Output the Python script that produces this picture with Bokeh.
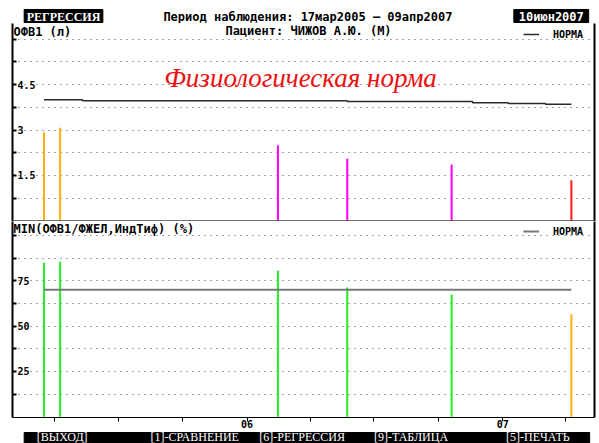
import pandas as pd
from bokeh.plotting import figure
from bokeh.layouts import column
from bokeh.models import (Range1d, LinearAxis, DatetimeAxis, FixedTicker, Span,
                          Legend, LegendItem, Grid)
from bokeh.core.properties import value
from bokeh.embed import file_html
from bokeh.resources import INLINE

MONO = "DejaVu Sans Mono"
SERIF = "Liberation Serif"

# ---- texts -------------------------------------------------------------
report_title = "РЕГРЕССИЯ"
report_date = "10июн2007"
period_text = "Период наблюдения: 17мар2005 – 09апр2007"
patient_text = "Пациент: ЧИЖОВ А.Ю. (М)"
norm_caption = "Физиологическая норма"
fev1_title = "ОФВ1 (л)"
ratio_title = "MIN(ОФВ1/ФЖЕЛ,ИндТиф) (%)"
legend_label = "НОРМА"
menu_items = ["[ВЫХОД]", "[1]-СРАВНЕНИЕ", "[6]-РЕГРЕССИЯ", "[9]-ТАБЛИЦА", "[5]-ПЕЧАТЬ"]

# ---- data --------------------------------------------------------------
visit_dates = ["2005-03-17", "2005-04-09", "2006-02-14", "2006-05-24", "2006-10-20", "2007-04-09"]
fev1_values = [2.93, 3.08, 2.50, 2.05, 1.86, 1.34]
fev1_colors = ["#ffad0f", "#ffad0f", "#ff00ff", "#ff00ff", "#ff00ff", "#ff1a1a"]
ratio_values = [85.0, 85.5, 80.5, 71.3, 67.3, 56.6]
ratio_colors = ["#22ee22", "#22ee22", "#22ee22", "#22ee22", "#22ee22", "#ffad0f"]

fev1_norm_dates = ["2005-03-17", "2005-05-11", "2006-05-24", "2006-11-19", "2007-01-09", "2007-03-03", "2007-04-09"]
fev1_norm_values = [4.00, 3.97, 3.94, 3.90, 3.88, 3.85]
ratio_norm_dates = ["2005-03-17", "2007-04-09"]
ratio_norm_value = 70.0

fev1_ticks = [0.75, 1.5, 2.25, 3.0, 3.75, 4.5, 5.25, 6.0]
fev1_tick_labels = {1.5: "1.5", 3.0: "3", 4.5: "4.5"}
ratio_ticks = [12.5, 25.0, 37.5, 50.0, 62.5, 75.0, 87.5, 100.0]
ratio_tick_labels = {25.0: "25", 50.0: "50", 75.0: "75"}

quarter_ticks = ["2005-04-01", "2005-07-01", "2005-10-01", "2006-04-01",
                 "2006-07-01", "2006-10-01", "2007-04-01"]
year_ticks = ["2006-01-01", "2007-01-01"]
year_labels = ["06", "07"]

date_start = "2005-01-31"
date_end = "2007-05-12"


def ms(d):
    return pd.Timestamp(d).value / 1e6


X0, X1 = ms(date_start), ms(date_end)
visit_ms = [ms(d) for d in visit_dates]

FEV1_RANGE = (-0.02, 6.52)
RATIO_RANGE = (-0.39, 107.7)


def panel(height, y_range, ticks, bottom_border):
    p = figure(width=599, height=height, x_range=Range1d(X0, X1), y_range=Range1d(*y_range),
               x_axis_type="datetime", x_axis_location=None, y_axis_location=None,
               output_backend="svg", toolbar_location=None,
               min_border_left=12, min_border_right=5, min_border_top=0,
               min_border_bottom=bottom_border,
               background_fill_color="white", border_fill_color="white",
               outline_line_color=None)
    p.xgrid.visible = False
    p.ygrid.visible = False
    p.add_layout(Grid(dimension=1, ticker=FixedTicker(ticks=ticks),
                      grid_line_color="#444444", grid_line_dash="1 5",
                      grid_line_width=1), "center")
    # inward tick marks only; the values are written inside the frame
    left = LinearAxis(ticker=FixedTicker(ticks=[], minor_ticks=ticks),
                      major_tick_in=0, major_tick_out=0,
                      minor_tick_in=4, minor_tick_out=0, major_label_standoff=0,
                      axis_line_width=2, axis_line_color="black",
                      minor_tick_line_width=2, minor_tick_line_color="black")
    right = LinearAxis(ticker=FixedTicker(ticks=[], minor_ticks=[]), major_tick_in=0,
                       major_tick_out=0, minor_tick_in=0, minor_tick_out=0,
                       major_label_standoff=0, axis_line_width=2, axis_line_color="black")
    p.add_layout(left, "left")
    p.add_layout(right, "right")
    return p


def tick_texts(p, labels):
    ys = list(labels.keys())
    p.text(x=[X0] * len(ys), y=ys, text=[labels[y] for y in ys], x_offset=5,
           text_font=value(MONO), text_font_style="bold", text_font_size="10px",
           text_align="left", text_baseline="middle", text_color="black")


def norm_legend(p, renderer, y_bottom):
    legend = Legend(items=[LegendItem(label=legend_label, renderers=[renderer])],
                    location=(511, y_bottom), glyph_width=16, glyph_height=12,
                    label_height=12, label_width=30, label_standoff=14, padding=0,
                    margin=0, spacing=0, border_line_color=None, background_fill_alpha=0,
                    label_text_font=MONO, label_text_font_style="bold",
                    label_text_font_size="10px", label_text_color="black")
    p.add_layout(legend)


# ---- header band -------------------------------------------------------
head = figure(width=599, height=23, x_range=Range1d(0, 599), y_range=Range1d(23, 0),
              x_axis_location=None, y_axis_location=None, output_backend="svg",
              toolbar_location=None, min_border=0, outline_line_color=None)
head.grid.visible = False
head.quad(left=[12, 516], right=[93, 593], top=[9, 9], bottom=[22, 22],
          fill_color="black", line_color="black")
head.text(x=[52.5], y=[16], text=[report_title], text_color="white",
          text_font=value(SERIF), text_font_style="bold", text_font_size="12px",
          text_align="center", text_baseline="middle")
head.text(x=[554.5], y=[16], text=[report_date], text_color="white",
          text_font=value(MONO), text_font_style="bold", text_font_size="12px",
          text_align="center", text_baseline="middle")
head.text(x=[304], y=[16], text=[period_text], text_color="black",
          text_font=value(MONO), text_font_style="bold", text_font_size="12px",
          text_align="center", text_baseline="middle")

# ---- FEV1 panel --------------------------------------------------------
top = panel(198, FEV1_RANGE, fev1_ticks, 0)
top.add_layout(Span(location=0, dimension="width", line_color="#444444", line_width=1.5))
top.segment(x0=visit_ms, y0=[0] * len(visit_ms), x1=visit_ms, y1=fev1_values,
            line_color=fev1_colors, line_width=2)
fev1_steps = top.step(x=[ms(d) for d in fev1_norm_dates],
                      y=fev1_norm_values + [fev1_norm_values[-1]], mode="after",
                      line_color="#2a2a2a", line_width=1.5)
tick_texts(top, fev1_tick_labels)
top.text(x=[X0], y=[FEV1_RANGE[1]], text=[fev1_title], x_offset=1, y_offset=8,
         text_font=value(MONO), text_font_style="bold", text_font_size="12px",
         text_align="left", text_baseline="middle", text_color="black")
top.text(x=[X0], y=[FEV1_RANGE[1]], text=[patient_text], x_offset=296, y_offset=7,
         text_font=value(MONO), text_font_style="bold", text_font_size="12px",
         text_align="center", text_baseline="middle", text_color="black")
top.text(x=[(X0 + X1) / 2], y=[4.72], text=[norm_caption], x_offset=-3,
         text_font=value(SERIF), text_font_style="italic", text_font_size="27px",
         text_align="center", text_baseline="middle", text_color="#ee1111")
norm_legend(top, fev1_steps, 181)

# ---- FEV1/FVC panel ----------------------------------------------------
bot = panel(210, RATIO_RANGE, ratio_ticks, 14)
bot.segment(x0=visit_ms, y0=[0] * len(visit_ms), x1=visit_ms, y1=ratio_values,
            line_color=ratio_colors, line_width=2)
ratio_line = bot.line(x=[ms(d) for d in ratio_norm_dates],
                      y=[ratio_norm_value] * len(ratio_norm_dates),
                      line_color="#777777", line_width=2)
tick_texts(bot, ratio_tick_labels)
bot.text(x=[X0], y=[RATIO_RANGE[1]], text=[ratio_title], x_offset=1, y_offset=7,
         text_font=value(MONO), text_font_style="bold", text_font_size="12px",
         text_align="left", text_baseline="middle", text_color="black")
norm_legend(bot, ratio_line, 180)

yt = [ms(d) for d in year_ticks]
qt = [ms(d) for d in quarter_ticks]
xaxis = DatetimeAxis(ticker=FixedTicker(ticks=yt, minor_ticks=qt),
                     major_label_overrides=dict(zip(yt, year_labels)),
                     major_tick_out=4, major_tick_in=0, minor_tick_in=0, minor_tick_out=4,
                     axis_line_color="black", axis_line_width=1,
                     major_tick_line_color="black", minor_tick_line_color="black",
                     major_label_standoff=-2,
                     major_label_text_font=MONO, major_label_text_font_style="bold",
                     major_label_text_font_size="10px", major_label_text_color="black")
bot.add_layout(xaxis, "below")

# ---- footer menu -------------------------------------------------------
foot = figure(width=599, height=12, x_range=Range1d(0, 599), y_range=Range1d(12, 0),
              x_axis_location=None, y_axis_location=None, output_backend="svg",
              toolbar_location=None, min_border=0, outline_line_color=None)
foot.grid.visible = False
foot.quad(left=[12], right=[594], top=[1], bottom=[12], fill_color="black", line_color="black")
foot.text(x=[25, 142, 254, 372, 508], y=[5.5] * 5, text=menu_items, text_color="white",
          text_font=value(SERIF), text_font_size="12px",
          text_align="left", text_baseline="middle")

layout = column(head, top, bot, foot, spacing=0)
open("out.html", "w").write(file_html(layout, INLINE))
